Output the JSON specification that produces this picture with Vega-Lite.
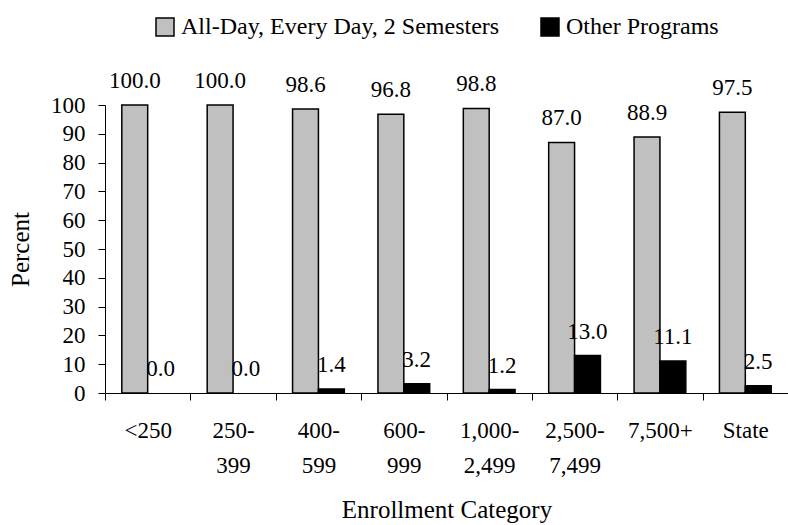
{
  "$schema": "https://vega.github.io/schema/vega-lite/v6.json",
  "width": 683,
  "height": 288,
  "autosize": {"type": "none"},
  "padding": {"left": 105, "top": 105, "right": 0, "bottom": 132},
  "background": "white",
  "config": {
    "font": "Liberation Serif",
    "view": {"stroke": null},
    "text": {"font": "Liberation Serif"},
    "axis": {"grid": false, "domainColor": "#000", "tickColor": "#000", "labelColor": "#000", "titleColor": "#000", "labelFont": "Liberation Serif", "titleFont": "Liberation Serif", "titleFontWeight": "normal", "labelFontSize": 23, "titleFontSize": 25, "tickSize": 7, "domainWidth": 1, "tickWidth": 1},
    "legend": {"labelFont": "Liberation Serif"}
  },
  "data": {
    "values": [
      {"category": "<250", "series": "All-Day, Every Day, 2 Semesters", "value": 100.0},
      {"category": "<250", "series": "Other Programs", "value": 0.0},
      {"category": "250-399", "series": "All-Day, Every Day, 2 Semesters", "value": 100.0},
      {"category": "250-399", "series": "Other Programs", "value": 0.0},
      {"category": "400-599", "series": "All-Day, Every Day, 2 Semesters", "value": 98.6},
      {"category": "400-599", "series": "Other Programs", "value": 1.4},
      {"category": "600-999", "series": "All-Day, Every Day, 2 Semesters", "value": 96.8},
      {"category": "600-999", "series": "Other Programs", "value": 3.2},
      {"category": "1,000-2,499", "series": "All-Day, Every Day, 2 Semesters", "value": 98.8},
      {"category": "1,000-2,499", "series": "Other Programs", "value": 1.2},
      {"category": "2,500-7,499", "series": "All-Day, Every Day, 2 Semesters", "value": 87.0},
      {"category": "2,500-7,499", "series": "Other Programs", "value": 13.0},
      {"category": "7,500+", "series": "All-Day, Every Day, 2 Semesters", "value": 88.9},
      {"category": "7,500+", "series": "Other Programs", "value": 11.1},
      {"category": "State", "series": "All-Day, Every Day, 2 Semesters", "value": 97.5},
      {"category": "State", "series": "Other Programs", "value": 2.5}
    ]
  },
  "encoding": {
    "x": {
      "field": "category", "type": "nominal", "sort": null,
      "scale": {"paddingInner": 0, "paddingOuter": 0},
      "axis": {
        "title": "Enrollment Category", "labelAngle": 0, "tickBand": "extent",
        "labelPadding": 30, "labelLineHeight": 35, "labelBaseline": "middle",
        "labelExpr": "indexof(datum.label, '-') > 0 ? [substring(datum.label, 0, indexof(datum.label, '-') + 1), substring(datum.label, indexof(datum.label, '-') + 1)] : datum.label",
        "titlePadding": 20
      }
    },
    "xOffset": {"field": "series", "type": "nominal", "scale": {"paddingInner": 0, "paddingOuter": 0.65}},
    "y": {
      "field": "value", "type": "quantitative",
      "scale": {"domain": [0, 100], "nice": false},
      "axis": {"title": "Percent", "values": [0,10,20,30,40,50,60,70,80,90,100], "labelPadding": 13, "titlePadding": 17}
    }
  },
  "layer": [
    {
      "mark": {"type": "bar", "stroke": "#000"},
      "encoding": {
        "strokeWidth": {"condition": {"test": "datum.value == 0", "value": 0}, "value": 1.5},
        "color": {
          "field": "series", "type": "nominal",
          "scale": {"domain": ["All-Day, Every Day, 2 Semesters", "Other Programs"], "range": ["#c0c0c0", "#000000"]},
          "legend": {
            "title": null, "orient": "none", "direction": "horizontal", "legendX": 48, "legendY": -90,
            "symbolType": "square", "symbolSize": 324, "symbolStrokeColor": "#000", "symbolStrokeWidth": 1.5,
            "labelFontSize": 24, "labelColor": "#000", "labelOffset": 4,
            "columnPadding": 38, "labelLimit": 500
          }
        }
      }
    },
    {
      "mark": {"type": "text", "baseline": "alphabetic", "fontSize": 23, "color": "#000", "dy": -17},
      "encoding": {
        "text": {"field": "value", "type": "quantitative", "format": ".1f"},
        "dx": {"condition": {"test": "datum.series == 'Other Programs'", "value": 12}, "value": 0},
        "x": {"field": "category", "type": "nominal", "sort": null},
        "xOffset": {"field": "series", "type": "nominal"}
      }
    }
  ]
}
